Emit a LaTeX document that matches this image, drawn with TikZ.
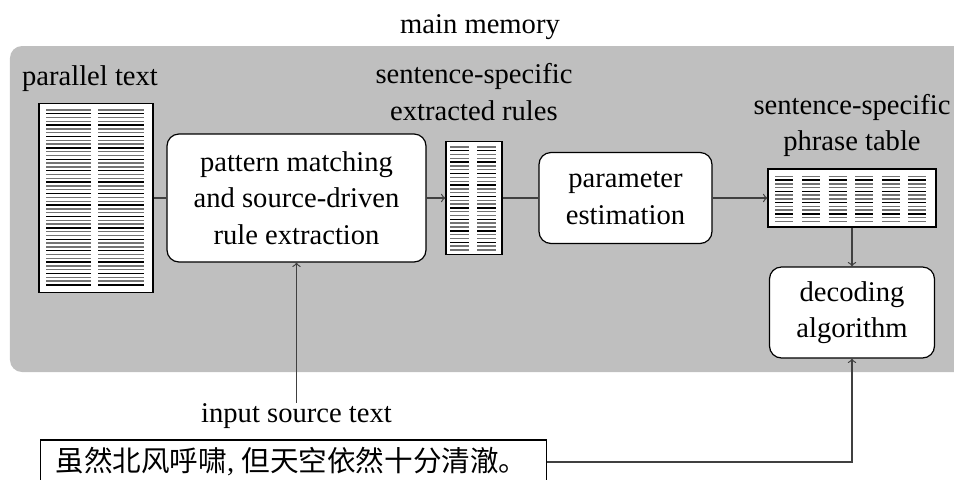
\documentclass[tikz,border=0pt]{standalone}
\usepackage{fontspec}
\setmainfont{Liberation Serif}
\newfontfamily\cjk{Noto Sans CJK SC}
\usetikzlibrary{positioning,calc}
\definecolor{memgray}{RGB}{191,191,191}

\begin{document}
\begin{tikzpicture}[x=1pt, y=1pt, line width=0.6pt, %
    every node/.style={font=\fontsize{14.3pt}{18.25pt}\selectfont}, %
    stagebox/.style={rectangle, draw, fill=white, rounded corners=6pt, align=center}, %
    docbox/.style={rectangle, draw, fill=white, inner sep=0}, %
    caption/.style={align=center, inner sep=0}, %
    link/.style={draw=black!75}, %
    docline/.style={line width=0.7pt}]
  \useasboundingbox (-148.25,99) rectangle (328.75,-140.5);
  \fill[memgray, rounded corners=6pt] (-143.25,76) rectangle (336.75,-87);
%
  \node[stagebox, minimum width=129.5pt, minimum height=64pt] (Extraction) %
       {pattern matching\\and source-driven\\rule extraction};
%
  \node[docbox, minimum width=57pt, minimum height=94.5pt, left of=Extraction, %
        node distance=100.25pt] (ParallelDoc) {};
  \node[docbox, minimum width=28pt, minimum height=56.5pt, right of=Extraction, %
        node distance=88.75pt] (RulesDoc) {};
  \node[stagebox, minimum width=86.5pt, minimum height=45.5pt, right of=RulesDoc, %
        node distance=75.75pt] (Estimation) {parameter\\estimation};
  \node[docbox, minimum width=84pt, minimum height=29pt, right of=Estimation, %
        node distance=113.25pt] (PhraseTable) {};
  \node[stagebox, minimum width=82.5pt, minimum height=45.5pt, below of=PhraseTable, %
        node distance=57.25pt] (Decoding) {decoding\\algorithm};
%
  \node[caption, above of=Extraction, node distance=85.5pt, xshift=91.75pt] %
       (MemLabel) {main memory};
  \node[caption, above of=ParallelDoc, node distance=59.5pt, xshift=-3pt] %
       (ParallelLabel) {parallel text};
  \node[caption, above of=RulesDoc, node distance=52.9pt] %
       (RulesLabel) {sentence-specific\\extracted rules};
  \node[caption, above of=PhraseTable, node distance=36.3pt] %
       (PhraseLabel) {sentence-specific\\phrase table};
  \node[caption, below of=Extraction, node distance=109pt] %
       (InputLabel) {input source text};
  \node[rectangle, draw, fill=white, minimum width=253pt, minimum height=22pt, %
        inner sep=0, below of=InputLabel, node distance=23pt, xshift=-1.5pt] %
       (SourceBox) {\hspace*{-2pt}{\cjk 虽然北风呼啸}, {\cjk 但天空依然十分清澈。}};
%
  % text lines inside the documents
  \foreach \i [evaluate=\i as \shade using {int(mod(\i,3)==1 ? 100 : 55)}] in {0,...,46} {
    \draw[docline, black!\shade] ($(ParallelDoc.north west)+(4,-3.5-1.902*\i)$) -- +(22.5,0);
    \draw[docline, black!\shade] ($(ParallelDoc.north west)+(30,-3.5-1.902*\i)$) -- +(23,0);
  }
  \foreach \i [evaluate=\i as \shade using {int(mod(\i,3)==1 ? 100 : 55)}] in {0,...,27} {
    \draw[docline, black!\shade] ($(RulesDoc.north west)+(2.5,-3-1.907*\i)$) -- +(9.5,0);
    \draw[docline, black!\shade] ($(RulesDoc.north west)+(16,-3-1.907*\i)$) -- +(9.5,0);
  }
  \foreach \i [evaluate=\i as \shade using {int(mod(\i,3)==1 ? 100 : 55)}] in {0,...,12} {
    \foreach \c in {4,17.3,30.6,43.9,57.2,70.5} {
      \draw[docline, black!\shade] ($(PhraseTable.north west)+(\c,-4-1.875*\i)$) -- +(9,0);
    }
  }
%
  \draw[link] (ParallelDoc) -- (Extraction);
  \draw[link, ->] (Extraction) -- (RulesDoc);
  \draw[link] (RulesDoc) -- (Estimation);
  \draw[link, ->] (Estimation) -- (PhraseTable);
  \draw[link, ->] (PhraseTable) -- (Decoding);
  \draw[link, ->] (InputLabel.north) -- (Extraction.south);
  \draw[link, ->] (SourceBox.east) -| (Decoding.south);
\end{tikzpicture}
\end{document}
